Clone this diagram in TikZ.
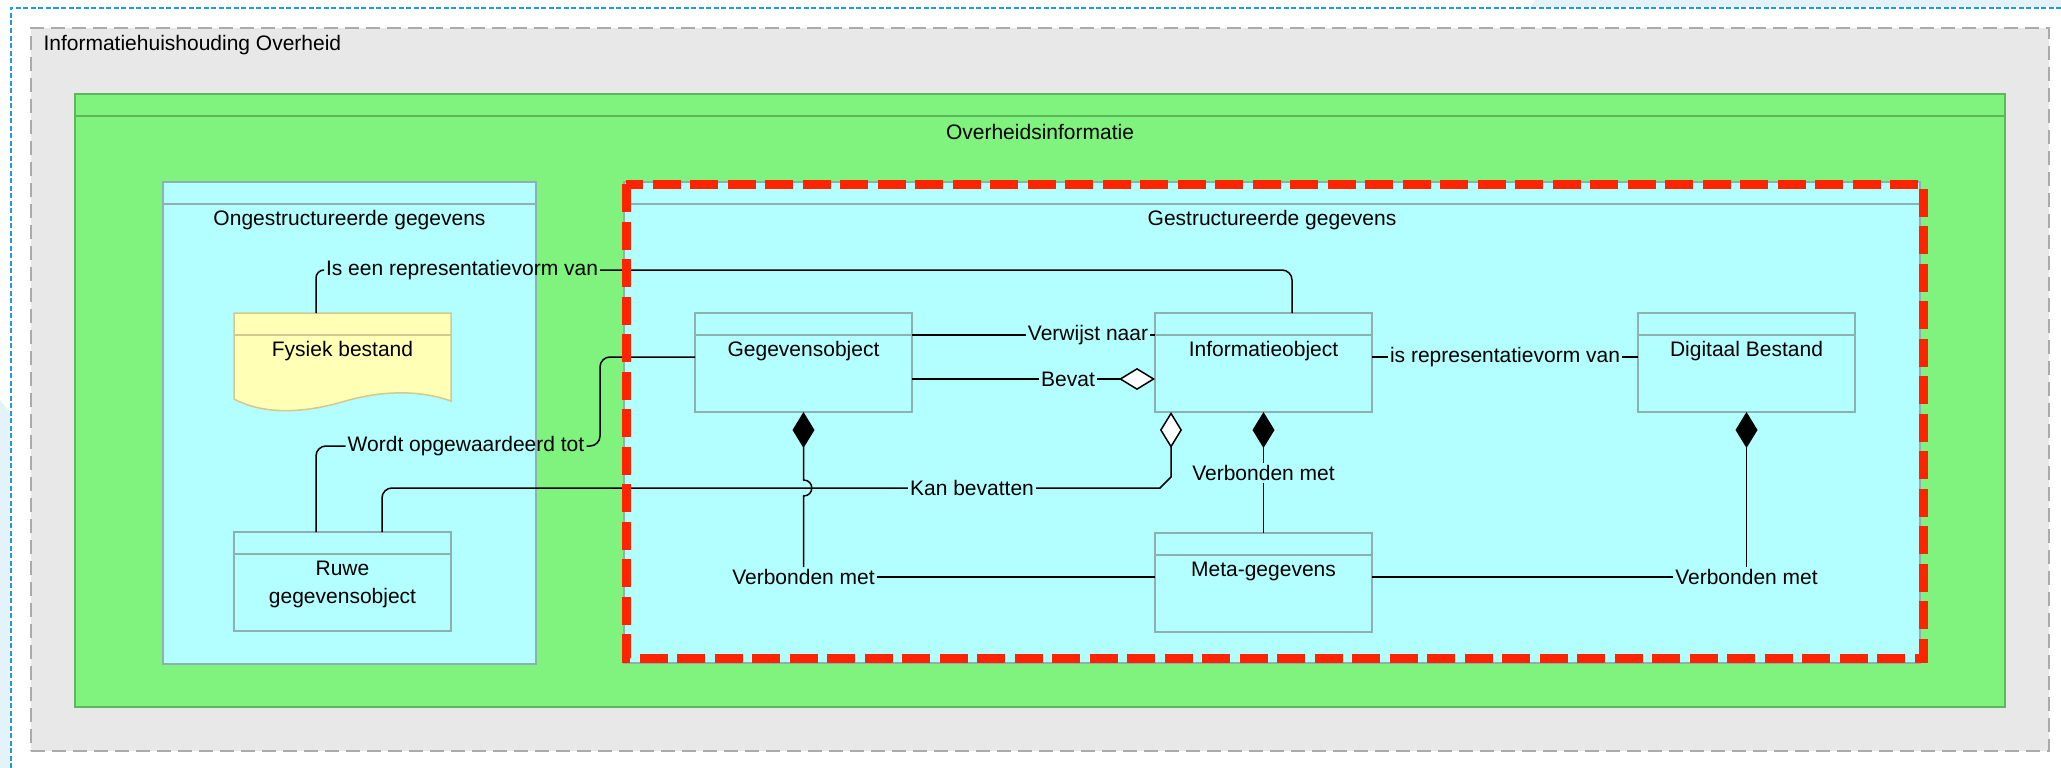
\documentclass[tikz,border=0pt]{standalone}
\usepackage{fontspec}
\setmainfont{Liberation Sans}
\usetikzlibrary{arrows.meta}

\definecolor{ihgray}{HTML}{E8E8E8}
\definecolor{ihline}{HTML}{ABABAB}
\definecolor{oigreen}{HTML}{80F27E}
\definecolor{oiline}{HTML}{5DB85B}
\definecolor{gvcyan}{HTML}{B3FFFF}
\definecolor{gvline}{HTML}{8DB0B0}
\definecolor{fbyellow}{HTML}{FFFFB5}
\definecolor{fbline}{HTML}{D5C78E}
\definecolor{selred}{HTML}{FF2400}
\definecolor{selblue}{HTML}{1E9BE0}
\definecolor{selshade}{HTML}{E4F2FA}

\tikzset{
  groupbox/.style={draw=#1, line width=1.5pt, anchor=north west, inner sep=0pt, outer sep=0pt},
  headbox/.style={groupbox=#1, path picture={\draw[#1, line width=1.5pt] ([yshift=-22pt]path picture bounding box.north west) -- ([yshift=-22pt]path picture bounding box.north east);}},
  classbox/.style={headbox=gvline, fill=gvcyan, minimum width=217pt, minimum height=99pt},
  boxtitle/.style={anchor=center, yshift=-38pt},
  reltext/.style={inner sep=2pt},
  rel/.style={line width=1.5pt},
  comp/.style={rel, arrows={Diamond[length=36pt, width=22pt]-}},
  aggr/.style={rel, arrows={Diamond[length=36pt, width=22pt, fill=white]-}},
}

\begin{document}
\begin{tikzpicture}[x=1pt, y=-1pt, font=\fontsize{21}{28}\selectfont]
\useasboundingbox (0,0) rectangle (2061,768);

% containers
\node[groupbox=ihline, dash pattern=on 14pt off 7pt, fill=ihgray, minimum width=2018pt, minimum height=723pt,
      label={[anchor=west, xshift=9pt, yshift=-17pt]north west:Informatiehuishouding Overheid}] (ioh) at (31,28) {};
\node[headbox=oiline, fill=oigreen, minimum width=1930pt, minimum height=613pt,
      label={[boxtitle]north:Overheidsinformatie}] (ohi) at (75,94) {};
\node[headbox=gvline, fill=gvcyan, minimum width=373pt, minimum height=482pt,
      label={[boxtitle]north:Ongestructureerde gegevens}] (ongestr) at (163,182) {};
\node[headbox=gvline, fill=gvcyan, minimum width=1296pt, minimum height=481pt,
      label={[boxtitle]north:Gestructureerde gegevens}] (gestr) at (624,182) {};

% Fysiek bestand, document shape
\filldraw[fill=fbyellow, draw=fbline, line width=1.5pt] (234,313) -- (451,313) -- (451,401)
   .. controls (420,390) and (382,390) .. (342,402) .. controls (300,414) and (262,414) .. (234,399) -- cycle;
\draw[fbline, line width=1.5pt] (234,335) -- (451,335);
\node[anchor=north west, minimum width=217pt, minimum height=99pt, inner sep=0pt, outer sep=0pt,
      label={[boxtitle]north:Fysiek bestand}] (fys) at (234,313) {};

% classes
\node[classbox, label={[anchor=center, yshift=-52pt, align=center]north:Ruwe\\gegevensobject}] (ruwe) at (234,532) {};
\node[classbox, label={[boxtitle]north:Gegevensobject}]   (geg)  at (695,313)  {};
\node[classbox, label={[boxtitle]north:Informatieobject}] (info) at (1155,313) {};
\node[classbox, label={[boxtitle]north:Digitaal Bestand}] (dig)  at (1638,313) {};
\node[classbox, label={[boxtitle]north:Meta-gegevens}]    (meta) at (1155,533) {};

% relation texts
\node[reltext] (isrep) at (462,270)    {Is een representatievorm van};
\node[reltext] (upgr)  at (466,446)    {Wordt opgewaardeerd tot};
\node[reltext] (verw)  at (1088,335)   {Verwijst naar};
\node[reltext] (bevat) at (1068,379)   {Bevat};
\node[reltext] (kan)   at (972,488)    {Kan bevatten};
\node[reltext] (vb1)   at (803.5,577)  {Verbonden met};
\node[reltext] (vb2)   at (1263.5,473) {Verbonden met};
\node[reltext] (vb3)   at (1746.5,577) {Verbonden met};
\node[reltext] (isrv)  at (1505,357)   {is representatievorm van};

\coordinate (upgr-bend) at (600,357);
\coordinate (info-agg) at ([xshift=-92.5pt]info.south);
\coordinate (kan-bend) at (info-agg |- kan.east);
\coordinate (hop) at (geg.south |- kan.east);

% relations
\draw[rel, rounded corners=8pt] ([xshift=-26.5pt]fys.north) |- (isrep.west);
\draw[rel, rounded corners=10pt] (isrep.east) -| ([xshift=28.5pt]info.north);
\draw[rel, rounded corners=10pt] ([xshift=-26.5pt]ruwe.north) |- (upgr.west);
\draw[rel, rounded corners=10pt] (upgr.east) -| (upgr-bend) -- (upgr-bend -| geg.west);
\draw[rel] (verw.west -| geg.east) -- (verw.west);
\draw[rel] (verw.east) -- (verw.east -| info.west);
\draw[rel] (bevat.west -| geg.east) -- (bevat.west);
\draw[aggr] (bevat.east -| info.west) -- (bevat.east);
\draw[rel, rounded corners=10pt] ([xshift=39.5pt]ruwe.north) |- (kan.west);
\draw[aggr] (info-agg) -- ([yshift=11pt]kan-bend) -- ([xshift=-11pt]kan-bend) -- (kan.east);
\draw[comp] (geg.south) -- ([yshift=8pt]hop) .. controls ([shift={(11pt,8pt)}]hop) and ([shift={(11pt,-8pt)}]hop) .. ([yshift=-8pt]hop) -- (vb1.north);
\draw[rel] (vb1.east) -- (vb1.east -| meta.west);
\draw[comp] (info.south) -- (vb2.north);
\draw[rel] (vb2.south) -- (meta.north);
\draw[comp] (dig.south) -- (vb3.north);
\draw[rel] (vb3.west -| meta.east) -- (vb3.west);
\draw[rel] (isrv.west -| info.east) -- (isrv.west);
\draw[rel] (isrv.east) -- (isrv.east -| dig.west);

% selection marks
\draw[selred, line width=9pt, dash pattern=on 28pt off 9.5pt] ([shift={(2pt,-2pt)}]gestr.north west) rectangle ([shift={(3pt,5pt)}]gestr.south east);
\fill[selshade] (1530,7) -- (1535,0) -- (2061,0) -- (2061,7) -- cycle;
\fill[selshade] (0,400) -- (10,412) -- (10,768) -- (0,768) -- cycle;
\draw[selblue, line width=2pt, dash pattern=on 5pt off 2.5pt] (11,768) -- (11,8) -- (2061,8);

\end{tikzpicture}
\end{document}
